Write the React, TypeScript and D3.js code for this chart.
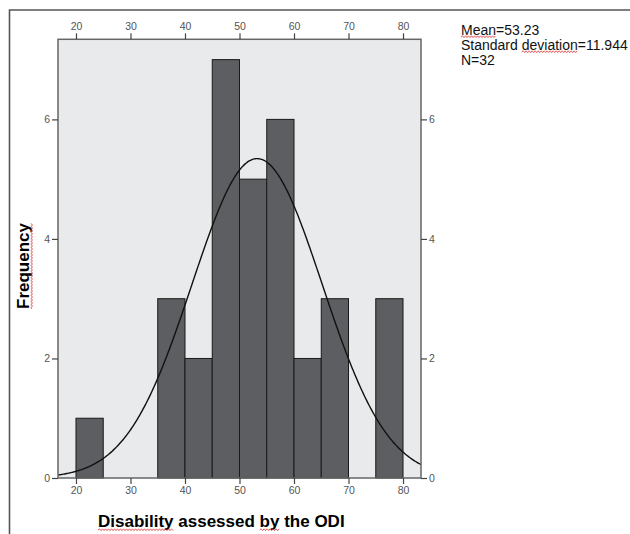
import React, { useEffect, useRef } from 'react';
import * as d3 from 'd3';

// histogram bins (lower edge) and counts, bin width 5
const binLower = [20, 25, 30, 35, 40, 45, 50, 55, 60, 65, 70, 75];
const binCounts = [1, 0, 0, 3, 2, 7, 5, 6, 2, 3, 0, 3];
const binWidth = 5;

const xTicks = [20, 30, 40, 50, 60, 70, 80];
const yTicks = [0, 2, 4, 6];

const mean = 53.23;
const sd = 11.944;
const n = 32;

const statLines = ['Mean=53.23', 'Standard deviation=11.944', 'N=32'];

const narrow = '"Liberation Sans Narrow", "Arial Narrow", "Liberation Sans", Arial, sans-serif';
const sans = '"Liberation Sans", Arial, sans-serif';

function wavy(x0: number, x1: number, y: number) {
  let d = `M${x0},${y}`;
  let up = true;
  for (let x = x0 + 1.5; x <= x1; x += 1.5) {
    d += ` L${x},${up ? y - 1.2 : y + 0.6}`;
    up = !up;
  }
  return d;
}

export default function App() {
  const node = useRef<SVGSVGElement | null>(null);

  useEffect(() => {
    const svg = d3.select(node.current);
    svg.selectAll('*').remove();

    const left = 58, right = 421, top = 39.3, bottom = 478;

    const x = d3.scaleLinear().domain([16.7, 83.3]).range([left, right]);
    const y = d3.scaleLinear().domain([0, 7.34]).range([bottom, top]);

    // outer frame
    svg.append('path')
      .attr('d', `M9.5,534 L9.5,10 L630,10`)
      .attr('fill', 'none')
      .attr('stroke', '#555')
      .attr('stroke-width', 1.6);

    // plot background
    svg.append('rect')
      .attr('x', left).attr('y', top)
      .attr('width', right - left).attr('height', bottom - top)
      .attr('fill', '#e9eaec');

    // bars
    const bins = binLower.map((b, i) => ({ x0: b, count: binCounts[i] })).filter(d => d.count > 0);
    svg.append('g').selectAll('rect')
      .data(bins)
      .enter()
      .append('rect')
        .attr('x', d => x(d.x0))
        .attr('y', d => y(d.count))
        .attr('width', d => x(d.x0 + binWidth) - x(d.x0))
        .attr('height', d => y(0) - y(d.count))
        .attr('fill', '#5d5e61')
        .attr('stroke', '#1a1a1a')
        .attr('stroke-width', 1);

    // normal curve
    const scale = n * binWidth / (sd * Math.sqrt(2 * Math.PI));
    const pts = d3.range(16.7, 83.31, 0.2).map(v => [v, scale * Math.exp(-((v - mean) ** 2) / (2 * sd * sd))]);
    svg.append('path')
      .datum(pts)
      .attr('d', d3.line<number[]>().x(d => x(d[0])).y(d => y(d[1])).curve(d3.curveBasis))
      .attr('fill', 'none')
      .attr('stroke', '#111')
      .attr('stroke-width', 1.4);

    // plot border
    svg.append('rect')
      .attr('x', left).attr('y', top)
      .attr('width', right - left).attr('height', bottom - top)
      .attr('fill', 'none')
      .attr('stroke', '#666')
      .attr('stroke-width', 1.5);

    const styleAxis = (g: any) => {
      g.select('.domain').remove();
      g.selectAll('.tick line').attr('stroke', '#444').attr('stroke-width', 1.2);
      g.selectAll('.tick text').attr('fill', '#555').style('font-family', narrow).style('font-size', '10.5px');
    };

    svg.append('g')
      .attr('transform', `translate(0,${top})`)
      .call(d3.axisTop(x).tickValues(xTicks).tickSize(6).tickPadding(3))
      .call(styleAxis);
    svg.append('g')
      .attr('transform', `translate(0,${bottom})`)
      .call(d3.axisBottom(x).tickValues(xTicks).tickSize(6).tickPadding(3))
      .call(styleAxis);
    svg.append('g')
      .attr('transform', `translate(${left},0)`)
      .call(d3.axisLeft(y).tickValues(yTicks).tickSize(6).tickPadding(2))
      .call(styleAxis);
    svg.append('g')
      .attr('transform', `translate(${right},0)`)
      .call(d3.axisRight(y).tickValues(yTicks).tickSize(6).tickPadding(2))
      .call(styleAxis);

    const red = (g: any, d: string, t?: string) => {
      const p = g.append('path')
        .attr('d', d)
        .attr('fill', 'none')
        .attr('stroke', '#e03030')
        .attr('stroke-width', 0.8);
      if (t) p.attr('transform', t);
    };

    // axis titles
    const freq = svg.append('text')
      .attr('transform', 'translate(29,266) rotate(-90)')
      .attr('text-anchor', 'middle')
      .style('font-family', sans)
      .style('font-weight', 'bold')
      .style('font-size', '17px')
      .text('Frequency');
    const fLen = (freq.node() as SVGTextElement).getComputedTextLength();
    red(svg, wavy(-fLen / 2, fLen / 2, 3), 'translate(29,266) rotate(-90)');

    const xTitle = svg.append('text')
      .attr('x', 98).attr('y', 527)
      .style('font-family', sans)
      .style('font-weight', 'bold')
      .style('font-size', '17px')
      .text('Disability assessed by the ODI');
    const xt = xTitle.node() as SVGTextElement;
    red(svg, wavy(98, 98 + xt.getSubStringLength(0, 10), 530));
    const byStart = 98 + xt.getSubStringLength(0, 20);
    red(svg, wavy(byStart, byStart + xt.getSubStringLength(20, 2), 530));

    // stats text
    const stats = svg.append('g').selectAll('text')
      .data(statLines)
      .enter()
      .append('text')
        .attr('x', 461)
        .attr('y', (d, i) => 35 + i * 15)
        .style('font-family', sans)
        .style('font-size', '14px')
        .attr('fill', '#111')
        .text(d => d);
    const st = stats.nodes() as SVGTextElement[];
    red(svg, wavy(461, 461 + st[0].getSubStringLength(0, 4), 37));
    const devStart = 461 + st[1].getSubStringLength(0, 9);
    red(svg, wavy(devStart, devStart + st[1].getSubStringLength(9, 9), 52));
  }, []);

  return (
    <svg ref={node} width={630} height={534} style={{ position: 'absolute', left: 0, top: 0, background: '#fff' }} />
  );
}
